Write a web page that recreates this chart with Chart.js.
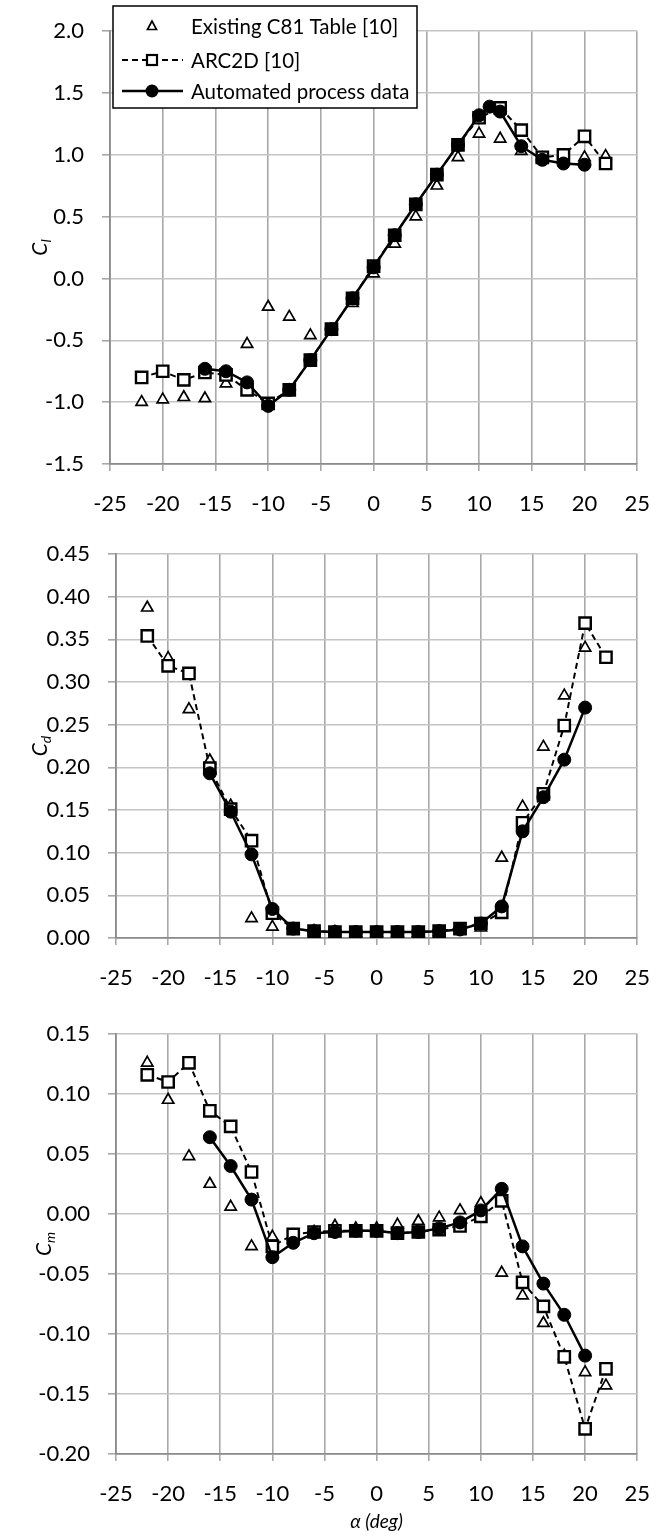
<!DOCTYPE html>
<html>
<head>
<meta charset="utf-8">
<script src="https://cdn.jsdelivr.net/npm/chart.js@4.4.1/dist/chart.umd.min.js"></script>
<style>
  body { margin:0; background:#fff; width:670px; height:1536px; overflow:hidden; }
  .box { position:absolute; left:0; width:670px; }
  canvas { display:block; }
</style>
</head>
<body>
<div class="box" style="top:0;height:515px"><canvas id="cl"></canvas></div>
<div class="box" style="top:515px;height:485px"><canvas id="cd"></canvas></div>
<div class="box" style="top:1000px;height:536px"><canvas id="cm"></canvas></div>
<script>
// angles of attack
var alphaAll = [-22,-20,-18,-16,-14,-12,-10,-8,-6,-4,-2,0,2,4,6,8,10,12,14,16,18,20,22]
var alphaAutoCl = [-16,-14,-12,-10,-8,-6,-4,-2,0,2,4,6,8,10,11,12,14,16,18,20]
var alphaAuto = [-16,-14,-12,-10,-8,-6,-4,-2,0,2,4,6,8,10,12,14,16,18,20]
var alphaC81Cd = [-22,-20,-18,-16,-14,-12,-10,-8,-6,-4,-2,0,2,4,6,8,10,12,14,16,18,20]

// lift
var clC81 = [-1.00,-0.98,-0.96,-0.97,-0.85,-0.53,-0.23,-0.31,-0.46,-0.42,-0.20,0.04,0.28,0.50,0.75,0.98,1.17,1.13,1.03,0.97,0.97,0.98,0.99]
var clArc = [-0.80,-0.75,-0.82,-0.76,-0.78,-0.90,-1.01,-0.90,-0.66,-0.41,-0.16,0.10,0.35,0.60,0.84,1.08,1.30,1.38,1.20,0.98,1.00,1.15,0.93]
var clAuto = [-0.73,-0.75,-0.84,-1.03,-0.90,-0.66,-0.41,-0.16,0.09,0.35,0.60,0.84,1.08,1.32,1.39,1.35,1.07,0.96,0.93,0.92]

// drag
var cdC81 = [0.387,0.328,0.268,0.208,0.155,0.023,0.013,0.010,0.008,0.007,0.006,0.006,0.006,0.006,0.007,0.009,0.012,0.094,0.154,0.224,0.284,0.340]
var cdArc = [0.354,0.319,0.310,0.199,0.151,0.114,0.029,0.011,0.008,0.007,0.007,0.007,0.007,0.007,0.008,0.011,0.017,0.030,0.135,0.169,0.249,0.369,0.329]
var cdAuto = [0.193,0.148,0.098,0.034,0.011,0.008,0.007,0.007,0.007,0.007,0.007,0.008,0.010,0.017,0.037,0.125,0.165,0.209,0.270]

// moment
var cmC81 = [0.126,0.095,0.048,0.025,0.006,-0.027,-0.019,-0.018,-0.015,-0.010,-0.012,-0.012,-0.009,-0.006,-0.003,0.003,0.009,-0.049,-0.068,-0.091,-0.118,-0.132,-0.143]
var cmArc = [0.116,0.110,0.126,0.086,0.073,0.035,-0.027,-0.017,-0.015,-0.014,-0.014,-0.014,-0.016,-0.015,-0.013,-0.010,-0.002,0.011,-0.057,-0.077,-0.119,-0.179,-0.129]
var cmAuto = [0.064,0.040,0.012,-0.036,-0.024,-0.016,-0.015,-0.014,-0.014,-0.016,-0.015,-0.012,-0.007,0.003,0.021,-0.027,-0.058,-0.084,-0.118]

var seriesNames = ['Existing C81 Table [10]', 'ARC2D [10]', 'Automated process data']
var xTicks = [-25,-20,-15,-10,-5,0,5,10,15,20,25]

var FONT = 'Lato, "Open Sans", sans-serif'

function pts(xs, ys) {
  return xs.map((x, i) => ({x: x, y: ys[i]}))
}

function datasets(c81x, c81, arcx, arc, autox, auto) {
  return [
    {
      label: seriesNames[0], data: pts(c81x, c81), showLine: false,
      pointStyle: 'triangle', pointRadius: 6.5, pointBorderWidth: 1.7,
      pointBackgroundColor: '#fff', pointBorderColor: '#000', order: 2
    },
    {
      label: seriesNames[1], data: pts(arcx, arc), showLine: true,
      borderColor: '#000', borderWidth: 2, borderDash: [6, 4],
      pointStyle: 'rect', pointRadius: 8, pointBorderWidth: 2.4,
      pointBackgroundColor: '#fff', pointBorderColor: '#000', order: 1
    },
    {
      label: seriesNames[2], data: pts(autox, auto), showLine: true,
      borderColor: '#000', borderWidth: 2.5,
      pointStyle: 'circle', pointRadius: 6.5, pointBorderWidth: 1,
      pointBackgroundColor: '#000', pointBorderColor: '#000', order: 0
    }
  ]
}

// y axis title with subscript, plus optional x title and legend
var decorPlugin = {
  id: 'decor',
  afterDraw(chart, args, opts) {
    var ctx = chart.ctx
    var area = chart.chartArea
    ctx.save()
    ctx.fillStyle = '#000'
    ctx.translate(opts.titleX, (area.top + area.bottom) / 2)
    ctx.rotate(-Math.PI / 2)
    ctx.font = 'italic 21px ' + FONT
    ctx.textBaseline = 'alphabetic'
    var w1 = ctx.measureText('C').width
    ctx.font = 'italic 14px ' + FONT
    var w2 = ctx.measureText(opts.sub).width
    ctx.font = 'italic 21px ' + FONT
    ctx.fillText('C', -(w1 + w2) / 2, 7)
    ctx.font = 'italic 14px ' + FONT
    ctx.fillText(opts.sub, -(w1 + w2) / 2 + w1, 11)
    ctx.restore()

    if (opts.xTitle) {
      ctx.save()
      ctx.font = 'italic 19px ' + FONT
      ctx.fillStyle = '#000'
      ctx.textAlign = 'center'
      ctx.textBaseline = 'middle'
      ctx.fillText(opts.xTitle, (area.left + area.right) / 2, area.bottom + 68)
      ctx.restore()
    }

    if (opts.legend) {
      ctx.save()
      ctx.fillStyle = '#fff'
      ctx.fillRect(113, 6, 304, 102)
      ctx.strokeStyle = '#000'
      ctx.lineWidth = 1.5
      ctx.strokeRect(113, 6, 304, 102)
      var rows = [26, 60, 91]
      var mx = 152
      ctx.font = '20.5px ' + FONT
      ctx.textBaseline = 'middle'
      ctx.fillStyle = '#000'
      for (var i = 0; i < 3; i++) {
        ctx.fillText(seriesNames[i], 191, rows[i] + 1)
      }
      // triangle
      ctx.beginPath()
      ctx.moveTo(mx, rows[0] - 5)
      ctx.lineTo(mx - 4.5, rows[0] + 3.5)
      ctx.lineTo(mx + 4.5, rows[0] + 3.5)
      ctx.closePath()
      ctx.lineWidth = 1.7
      ctx.stroke()
      // dashed line + square
      ctx.beginPath()
      ctx.setLineDash([6, 4])
      ctx.lineWidth = 2
      ctx.moveTo(122, rows[1])
      ctx.lineTo(183, rows[1])
      ctx.stroke()
      ctx.setLineDash([])
      ctx.fillStyle = '#fff'
      ctx.fillRect(mx - 5, rows[1] - 5, 10, 10)
      ctx.lineWidth = 2.2
      ctx.strokeRect(mx - 5, rows[1] - 5, 10, 10)
      // solid line + circle
      ctx.beginPath()
      ctx.lineWidth = 2.5
      ctx.moveTo(122, rows[2])
      ctx.lineTo(183, rows[2])
      ctx.stroke()
      ctx.beginPath()
      ctx.fillStyle = '#000'
      ctx.arc(mx, rows[2], 6.5, 0, Math.PI * 2)
      ctx.fill()
      ctx.restore()
    }
  }
}

function makeChart(id, data, ymin, ymax, ystep, digits, box, decor) {
  var config = {
    type: 'scatter',
    data: {datasets: data},
    plugins: [decorPlugin],
    options: {
      responsive: true,
      maintainAspectRatio: false,
      animation: false,
      layout: {padding: {top: box.top, right: box.right, left: 0, bottom: 0}},
      scales: {
        x: {
          type: 'linear', min: -25, max: 25,
          afterFit: function(scale) { scale.height = box.xh },
          afterBuildTicks: function(scale) { scale.ticks = xTicks.map(v => ({value: v})) },
          grid: {color: '#a8a8a8', lineWidth: 1.6, tickLength: 7, tickColor: '#a8a8a8'},
          border: {color: '#8c8c8c', width: 1.8},
          ticks: {color: '#000', font: {family: FONT, size: 22}, padding: 20, maxRotation: 0}
        },
        y: {
          type: 'linear', min: ymin, max: ymax,
          afterFit: function(scale) { scale.width = box.left },
          grid: {color: '#c4c4c4', lineWidth: 1.6, tickLength: 8, tickColor: '#a8a8a8'},
          border: {color: '#8c8c8c', width: 1.8},
          ticks: {
            stepSize: ystep, color: '#000', font: {family: FONT, size: 22}, padding: 18,
            callback: function(v) {
              if (Math.abs(v) < 1e-9) v = 0
              return Number(v).toFixed(digits)
            }
          }
        }
      },
      plugins: {
        legend: {display: false},
        tooltip: {enabled: false},
        decor: decor
      }
    }
  }
  return new Chart(document.getElementById(id), config)
}

makeChart('cl', datasets(alphaAll, clC81, alphaAll, clArc, alphaAutoCl, clAuto),
  -1.5, 2.0, 0.5, 1, {top: 21, right: 30, left: 110, xh: 51}, {sub: 'l', legend: true, titleX: 40})
makeChart('cd', datasets(alphaC81Cd, cdC81, alphaAll, cdArc, alphaAuto, cdAuto),
  0, 0.45, 0.05, 2, {top: 39, right: 32, left: 116, xh: 62}, {sub: 'd', titleX: 40})
makeChart('cm', datasets(alphaAll, cmC81, alphaAll, cmArc, alphaAuto, cmAuto),
  -0.20, 0.15, 0.05, 2, {top: 34, right: 28, left: 116, xh: 82}, {sub: 'm', xTitle: 'α (deg)', titleX: 44})
</script>
</body>
</html>
